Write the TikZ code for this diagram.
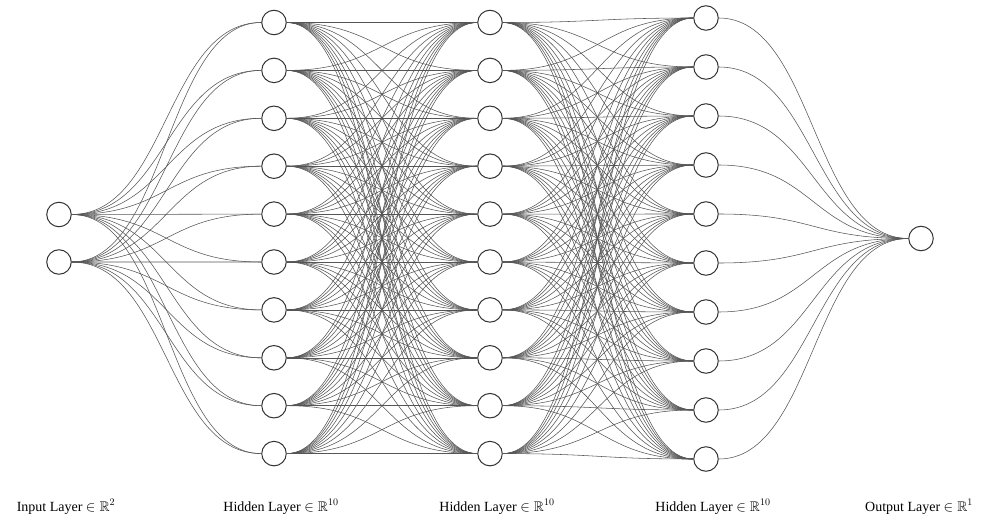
\documentclass[tikz,border=0pt]{standalone}
\usepackage{amssymb}
\usepackage{fontspec}
\setmainfont{Liberation Serif}

\begin{document}
\begin{tikzpicture}[x=1pt, y=-1pt,
    neuron/.style={draw={rgb,255:red,51;green,51;blue,51}, fill=white, circle, line width=1pt, minimum size=24.5pt, inner sep=0pt},
    link/.style={draw={rgb,255:red,85;green,85;blue,85}, line width=0.55pt},
    layername/.style={font=\fontsize{14}{16}\selectfont, anchor=base}]
\useasboundingbox (0,0) rectangle (992,521);

% Input layer
\node[neuron] (in-1) at (59,214.5) {};
\node[neuron] (in-2) at (59,262) {};

% Hidden layers
\foreach \i in {1,...,10} {
    \node[neuron] (ha-\i) at (274,{22.5+47.9*(\i-1)}) {};
    \node[neuron] (hb-\i) at (490,{22.5+47.9*(\i-1)}) {};
    \node[neuron] (hc-\i) at (706,{18+49*(\i-1)}) {};
}

% Output layer
\node[neuron] (out-1) at (921,238.5) {};

% Connections
\foreach \i in {1,2}
    \foreach \j in {1,...,10}
        \draw[link] (in-\i) .. controls +(108,0) and +(-108,0) .. (ha-\j);
\foreach \i in {1,...,10}
    \foreach \j in {1,...,10} {
        \draw[link] (ha-\i) .. controls +(108,0) and +(-108,0) .. (hb-\j);
        \draw[link] (hb-\i) .. controls +(108,0) and +(-108,0) .. (hc-\j);
    }
\foreach \i in {1,...,10}
    \draw[link] (hc-\i) .. controls +(108,0) and +(-108,0) .. (out-1);

% Layer names
\node[layername] (name-in) at (66,511) {Input Layer $\in\mathbb{R}^{2}$};
\node[layername] (name-ha) at (281,511) {Hidden Layer $\in\mathbb{R}^{10}$};
\node[layername] (name-hb) at (497,511) {Hidden Layer $\in\mathbb{R}^{10}$};
\node[layername] (name-hc) at (713,511) {Hidden Layer $\in\mathbb{R}^{10}$};
\node[layername] (name-out) at (919,511) {Output Layer $\in\mathbb{R}^{1}$};

\end{tikzpicture}
\end{document}
